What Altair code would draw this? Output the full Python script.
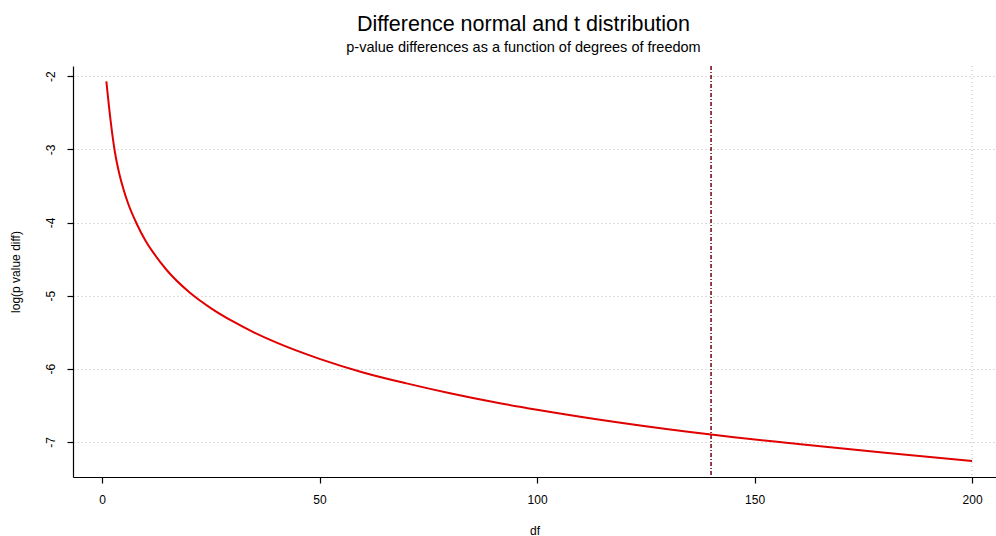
import altair as alt
import pandas as pd

# values
df_vals = [1, 2, 3, 4, 5, 6, 8, 10, 12, 15, 20, 25, 30, 35, 40, 50, 60, 70, 80,
           90, 100, 120, 140, 160, 180, 200]
log_diff = [-2.07, -2.62, -3.05, -3.34, -3.56, -3.74, -4.02, -4.25, -4.43, -4.66,
            -4.95, -5.17, -5.35, -5.505, -5.64, -5.865, -6.05, -6.20, -6.335, -6.455,
            -6.56, -6.745, -6.90, -7.03, -7.15, -7.26]
marker_df = [140]
grid_x = [200]
x_ticks = [0, 50, 100, 150, 200]
y_ticks = [-7, -6, -5, -4, -3, -2]

curve = pd.DataFrame({"df": df_vals, "val": log_diff})
marker = pd.DataFrame({"df": marker_df})
gx = pd.DataFrame({"df": grid_x})

FONT = "Liberation Sans"
xscale = alt.Scale(domain=[-6.67, 205.5], nice=False, zero=False)
yscale = alt.Scale(domain=[-7.48, -1.86], nice=False, zero=False)

xaxis = alt.Axis(values=x_ticks, title="df", grid=False, tickSize=6, tickColor="black",
                 domainColor="black", domainWidth=1.2, tickWidth=1.2,
                 labelExpr="'' + datum.value",
                 labelFont=FONT, labelFontSize=12, labelColor="black",
                 labelPadding=11, titleFont=FONT, titleFontSize=12,
                 titleFontWeight="normal", titlePadding=20, titleColor="black")
yaxis = alt.Axis(values=y_ticks, title="log(p value diff)", grid=True,
                 gridDash=[1, 3], gridColor="#b8b8b8", gridWidth=1,
                 tickSize=6, tickColor="black", tickWidth=1.2,
                 domainColor="black", domainWidth=1.2,
                 labelExpr="'' + datum.value",
                 labelAngle=270, labelAlign="center", labelBaseline="bottom",
                 labelFont=FONT, labelFontSize=12, labelColor="black",
                 labelPadding=10, titleFont=FONT, titleFontSize=12,
                 titleFontWeight="normal", titlePadding=22, titleColor="black")

line = alt.Chart(curve).mark_line(color="#e00000", strokeWidth=2,
                                  interpolate="monotone").encode(
    x=alt.X("df:Q", scale=xscale, axis=xaxis),
    y=alt.Y("val:Q", scale=yscale, axis=yaxis),
)

vgrid = alt.Chart(gx).mark_rule(color="#b8b8b8", strokeDash=[1, 3],
                                strokeWidth=1).encode(
    x=alt.X("df:Q", scale=xscale, axis=xaxis))

vline = alt.Chart(marker).mark_rule(color="#7a1020", strokeDash=[4, 2, 1, 2],
                                    strokeWidth=1.6).encode(
    x=alt.X("df:Q", scale=xscale, axis=xaxis))

chart = alt.layer(vgrid, vline, line).properties(
    width=923,
    height=411,
    background="white",
    title=alt.TitleParams(
        text="Difference normal and t distribution",
        subtitle="p-value differences as a function of degrees of freedom",
        font=FONT, fontSize=21.5, fontWeight="normal", color="black",
        subtitleFont=FONT, subtitleFontSize=14.5, subtitleColor="black",
        subtitlePadding=5, offset=11, anchor="middle", dx=-11,
    ),
    autosize=alt.AutoSizeParams(type="none"),
    padding={"left": 73, "top": 66, "right": 0, "bottom": 59},
).configure_view(stroke=None, strokeWidth=0)

chart.save("out.html", embed_options={"renderer": "svg", "actions": False})
